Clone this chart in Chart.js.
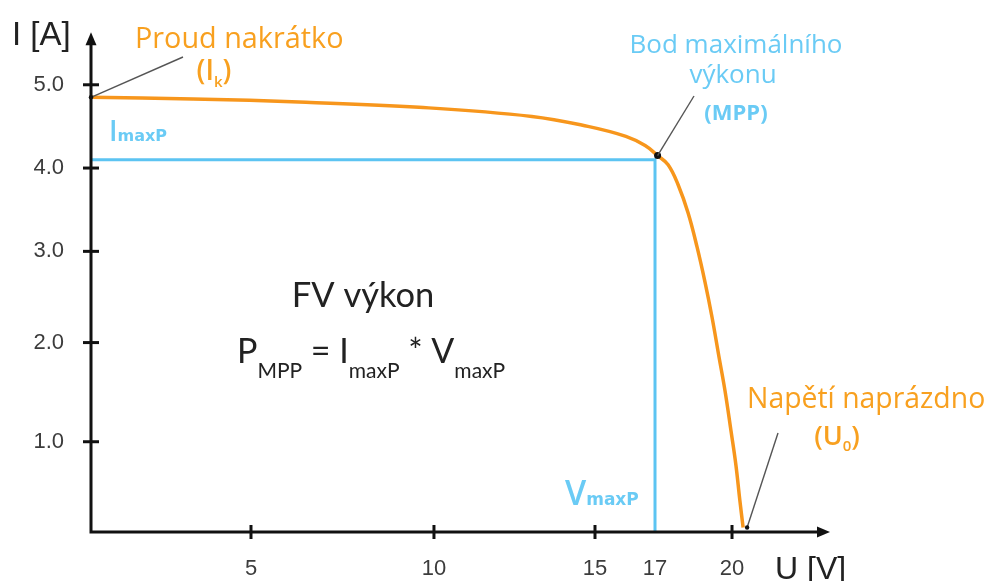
<!DOCTYPE html>
<html><head><meta charset="utf-8">
<script src="https://cdn.jsdelivr.net/npm/chart.js@4/dist/chart.umd.min.js"></script>
<style>html,body{margin:0;padding:0;background:#fff}canvas{display:block}</style>
</head><body>
<canvas id="c" width="989" height="581"></canvas>
<script>
// ---- data ----
const voltage = [0, 3.19, 6.50, 9.59, 13.04, 14.78, 16.03, 16.67, 17.1, 17.51, 17.90, 18.29, 18.64, 18.95, 19.22, 19.49, 19.73, 19.96, 20.12, 20.24, 20.34];
const current = [4.85, 4.83, 4.79, 4.73, 4.62, 4.50, 4.38, 4.27, 4.15, 4.04, 3.80, 3.46, 3.05, 2.66, 2.28, 1.86, 1.51, 1.11, 0.74, 0.35, 0.05];
const mppV = 17.1, mppI = 4.15;   // maximum power point on the curve
const vMaxP = 17, iMaxP = 4.1;    // guide lines
const xTickValues = [5, 10, 15, 17, 20];
const xTickLabels = ['5', '10', '15', '17', '20'];
const xTickMarks = [5, 10, 15, 20];
const yTickValues = [1, 2, 3, 4, 5];
const yTickLabels = ['1.0', '2.0', '3.0', '4.0', '5.0'];

// hand-drawn axis spacing of the original figure (value knots -> fraction of axis length)
const xKnots = [0, 5, 10, 15, 17, 20, 23];
const xKnotPos = [0, 0.2165, 0.4641, 0.6820, 0.7632, 0.8674, 1];
const yKnots = [0, 1, 2, 3, 4, 5, 5.63];
const yKnotPos = [0, 0.1806, 0.3790, 0.5615, 0.7282, 0.8948, 1];

const ORANGE = '#F7961C', ORANGE_T = '#F8A01F', BLUE = '#5CC4F2', BLUE_T = '#6ACBF5';

const WARP = { x: { v: xKnots, f: xKnotPos }, y: { v: yKnots, f: yKnotPos } };
function pw(a, b, v) {
  const n = a.length;
  let i = 1;
  while (i < n - 1 && v > a[i]) i++;
  return b[i - 1] + (v - a[i - 1]) * (b[i] - b[i - 1]) / (a[i] - a[i - 1]);
}
class WarpScale extends Chart.LinearScale {
  getPixelForValue(v) {
    if (v === null || v === undefined || isNaN(v)) return NaN;
    const k = WARP[this.id];
    return this.getPixelForDecimal(pw(k.v, k.f, v));
  }
  getValueForPixel(p) {
    const k = WARP[this.id];
    return pw(k.f, k.v, this.getDecimalForPixel(p));
  }
}
WarpScale.id = 'warp';
WarpScale.defaults = Chart.LinearScale.defaults;
Chart.register(WarpScale);

function drawRuns(ctx, parts, x, y, align) {
  let w = 0;
  parts.forEach(p => { ctx.font = p.f; p.w = ctx.measureText(p.t).width; w += p.w; });
  let cx = align === 'center' ? x - w / 2 : x;
  parts.forEach(p => { ctx.font = p.f; ctx.fillText(p.t, cx, y + (p.dy || 0)); cx += p.w; });
}

const annot = {
  id: 'annot',
  afterDatasetsDraw(chart) {
    const ctx = chart.ctx, xs = chart.scales.x, ys = chart.scales.y, ca = chart.chartArea;
    const x0 = xs.getPixelForValue(0), y0 = ys.getPixelForValue(0);
    ctx.save();
    // axes
    ctx.strokeStyle = '#111'; ctx.fillStyle = '#111'; ctx.lineWidth = 3; ctx.lineCap = 'butt';
    ctx.beginPath();
    ctx.moveTo(x0, ca.top + 10); ctx.lineTo(x0, y0); ctx.lineTo(ca.right - 9, y0);
    ctx.stroke();
    ctx.beginPath(); ctx.moveTo(x0, ca.top); ctx.lineTo(x0 - 5.5, ca.top + 13); ctx.lineTo(x0 + 5.5, ca.top + 13); ctx.closePath(); ctx.fill();
    ctx.beginPath(); ctx.moveTo(ca.right, y0); ctx.lineTo(ca.right - 13, y0 - 5.5); ctx.lineTo(ca.right - 13, y0 + 5.5); ctx.closePath(); ctx.fill();
    // tick marks crossing the axes
    ctx.lineWidth = 3;
    yTickValues.forEach(v => { const p = ys.getPixelForValue(v); ctx.beginPath(); ctx.moveTo(x0 - 8, p); ctx.lineTo(x0 + 8, p); ctx.stroke(); });
    xTickMarks.forEach(v => { const p = xs.getPixelForValue(v); ctx.beginPath(); ctx.moveTo(p, y0 - 7); ctx.lineTo(p, y0 + 7); ctx.stroke(); });

    // leader lines
    const ik = { x: xs.getPixelForValue(voltage[0]), y: ys.getPixelForValue(current[0]) };
    const mpp = { x: xs.getPixelForValue(mppV), y: ys.getPixelForValue(mppI) };
    const u0 = { x: xs.getPixelForValue(voltage[voltage.length - 1]) + 4, y: ys.getPixelForValue(current[current.length - 1]) };
    ctx.strokeStyle = '#555'; ctx.lineWidth = 1.4;
    [[ik, 183, 57], [mpp, 694, 96], [u0, 778, 433]].forEach(([p, tx, ty]) => {
      ctx.beginPath(); ctx.moveTo(p.x, p.y); ctx.lineTo(tx, ty); ctx.stroke();
    });
    ctx.fillStyle = '#111';
    [ik, u0].forEach(p => { ctx.beginPath(); ctx.arc(p.x, p.y, 2.2, 0, Math.PI * 2); ctx.fill(); });

    // texts
    ctx.textBaseline = 'alphabetic'; ctx.textAlign = 'left';
    ctx.fillStyle = '#222';
    ctx.font = '33px "Liberation Sans"'; ctx.fillText('I [A]', 12, 45);
    ctx.font = '32px "Liberation Sans"'; ctx.fillText('U [V]', 775, 579);

    ctx.fillStyle = ORANGE_T;
    ctx.font = '28.8px "Open Sans"'; ctx.fillText('Proud nakrátko', 135, 48);
    drawRuns(ctx, [
      { t: '(I', f: '600 28px "Open Sans"' },
      { t: 'k', f: '600 15px "Open Sans"', dy: 7 },
      { t: ')', f: '600 28px "Open Sans"' }], 214, 80, 'center');
    ctx.font = '28.4px "Open Sans"'; ctx.fillText('Napětí naprázdno', 747, 408);
    drawRuns(ctx, [
      { t: '(U', f: '600 27px "Open Sans"' },
      { t: '0', f: '600 15px "Open Sans"', dy: 6 },
      { t: ')', f: '600 27px "Open Sans"' }], 837, 445, 'center');

    ctx.fillStyle = BLUE_T;
    ctx.textAlign = 'center';
    ctx.font = '26px "Open Sans"';
    ctx.fillText('Bod maximálního', 736, 53);
    ctx.fillText('výkonu', 733, 83);
    ctx.font = 'bold 22px "Open Sans"';
    ctx.fillText('(MPP)', 736, 120);
    ctx.textAlign = 'left';
    drawRuns(ctx, [
      { t: 'I', f: '600 28px "Open Sans"' },
      { t: 'maxP', f: 'bold 16px "DejaVu Sans"' }], 109, 141, 'left');
    drawRuns(ctx, [
      { t: 'V', f: '600 34px "Open Sans"' },
      { t: 'maxP', f: 'bold 17px "DejaVu Sans"' }], 565, 505, 'left');

    ctx.fillStyle = '#222';
    ctx.textAlign = 'center';
    ctx.font = '34.5px Lato'; ctx.fillText('FV výkon', 363, 307);
    ctx.textAlign = 'left';
    const big = '34px Lato', sub = '21px Lato';
    drawRuns(ctx, [
      { t: 'P', f: big }, { t: 'MPP', f: sub, dy: 15 },
      { t: ' = I', f: big }, { t: 'maxP', f: sub, dy: 15 },
      { t: ' * V', f: big }, { t: 'maxP', f: sub, dy: 15 }], 237, 363, 'left');
    ctx.restore();
  }
};

new Chart(document.getElementById('c'), {
  type: 'line',
  data: {
    datasets: [
      { label: 'I-U', data: voltage.map((v, i) => ({ x: v, y: current[i] })), borderColor: ORANGE, borderWidth: 3.5,
        pointRadius: 0, tension: 0.4, fill: false, clip: false, order: 0 },
      { label: 'MPP guides', data: [{ x: 0, y: iMaxP }, { x: vMaxP, y: iMaxP }, { x: vMaxP, y: 0 }], borderColor: BLUE, borderWidth: 3,
        pointRadius: 0, tension: 0, fill: false, clip: false, order: 1 },
      { label: 'MPP', data: [{ x: mppV, y: mppI }], showLine: false, pointRadius: 3.5, pointBackgroundColor: '#111',
        pointBorderWidth: 0, clip: false, order: -1 }
    ]
  },
  options: {
    responsive: false, animation: false, devicePixelRatio: 1, events: [],
    layout: { padding: { top: 28, right: 159, left: 0, bottom: 0 } },
    plugins: { legend: { display: false }, tooltip: { enabled: false } },
    scales: {
      x: {
        type: 'warp', min: 0, max: 23,
        afterFit(s) { s.height = 49; },
        afterBuildTicks(s) { s.ticks = xTickValues.map(v => ({ value: v })); },
        grid: { display: false }, border: { display: false },
        ticks: { autoSkip: false, maxRotation: 0, padding: 16, color: '#3c3c3c',
          font: { family: 'Liberation Sans', size: 22 }, callback: (v, i) => xTickLabels[i] }
      },
      y: {
        type: 'warp', min: 0, max: 5.63,
        afterFit(s) { s.width = 91; },
        afterBuildTicks(s) { s.ticks = yTickValues.map(v => ({ value: v })); },
        grid: { display: false }, border: { display: false },
        ticks: { autoSkip: false, padding: 19, color: '#3c3c3c',
          font: { family: 'Liberation Sans', size: 22 }, callback: (v, i) => yTickLabels[i] }
      }
    }
  },
  plugins: [annot]
});
</script>
</body></html>
